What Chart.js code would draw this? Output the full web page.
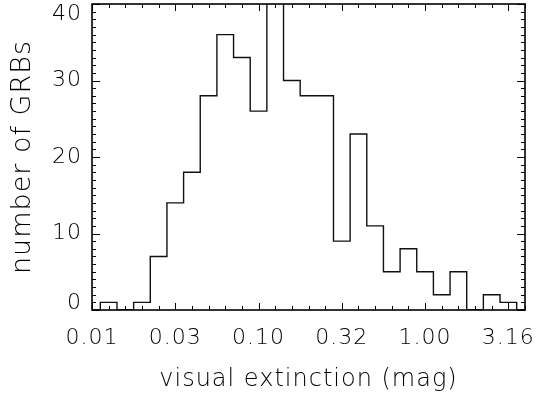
<!DOCTYPE html>
<html>
<head>
<meta charset="utf-8">
<script src="https://cdn.jsdelivr.net/npm/chart.js@4/dist/chart.umd.min.js"></script>
<style>
  html, body { margin: 0; padding: 0; background: #fff; }
  canvas { display: block; }
</style>
</head>
<body>
<canvas id="hist" width="537" height="394"></canvas>
<script>
// bin centres in log10(A_V), 0.1 dex wide
var logAv = [-2.0, -1.9, -1.8, -1.7, -1.6, -1.5, -1.4, -1.3, -1.2, -1.1, -1.0, -0.9, -0.8,
             -0.7, -0.6, -0.5, -0.4, -0.3, -0.2, -0.1, 0.0, 0.1, 0.2, 0.3, 0.4, 0.5, 0.6];
// number of GRBs per bin (the -0.9 bin runs off the top of the plot)
var counts = [0, 1, 0, 1, 7, 14, 18, 28, 36, 33, 26, 42, 30,
              28, 28, 9, 23, 11, 5, 8, 5, 2, 5, 0, 2, 1, 0];

var xTickValues = [-2, -1.5, -1, -0.5, 0, 0.5];
var xTickLabels = ['0.01', '0.03', '0.10', '0.32', '1.00', '3.16'];
var yTickValues = [0, 10, 20, 30, 40];
var yTickLabels = ['0', '10', '20', '30', '40'];

var FONT = '"DejaVu Sans", "Liberation Sans", sans-serif';
var INK = '#000';

var points = [];
for (var i = 0; i < logAv.length; i++) {
    points.push({x: logAv[i], y: counts[i]});
}

// IDL style box: inward ticks on all four sides, y labels kept inside the box height
var boxTicks = {
    id: 'boxTicks',
    beforeDraw: function (chart) {
        chart.ctx.letterSpacing = '1px';
    },
    afterDraw: function (chart) {
        var ctx = chart.ctx, a = chart.chartArea;
        var xs = chart.scales.x, ys = chart.scales.y;
        ctx.save();
        ctx.strokeStyle = INK;
        ctx.lineWidth = 1;
        ctx.beginPath();
        // x: minor every 0.1 dex, major every 0.5
        for (var i = -20; i <= 6; i++) {
            var px = Math.round(xs.getPixelForValue(i / 10)) + 0.5;
            var len = (i % 5 === 0) ? 7 : 4;
            ctx.moveTo(px, a.bottom); ctx.lineTo(px, a.bottom - len);
            ctx.moveTo(px, a.top); ctx.lineTo(px, a.top + len);
        }
        // y: minor every 1, major every 10
        for (var v = 0; v <= 40; v++) {
            var py = Math.round(ys.getPixelForValue(v)) + 0.5;
            var l = (v % 10 === 0) ? 8 : 4;
            ctx.moveTo(a.left, py); ctx.lineTo(a.left + l, py);
            ctx.moveTo(a.right, py); ctx.lineTo(a.right - l, py);
        }
        ctx.stroke();
        ctx.lineWidth = 1.6;
        ctx.strokeRect(a.left, a.top, a.right - a.left, a.bottom - a.top);

        ctx.fillStyle = INK;
        ctx.font = '200 22px ' + FONT;
        ctx.textAlign = 'right';
        ctx.textBaseline = 'middle';
        for (var k = 0; k < yTickValues.length; k++) {
            var ty = ys.getPixelForValue(yTickValues[k]);
            ty = Math.max(a.top + 10, Math.min(a.bottom - 7, ty));
            ctx.fillText(yTickLabels[k], a.left - 10, ty);
        }
        ctx.restore();
    }
};

new Chart(document.getElementById('hist'), {
    type: 'line',
    data: {
        datasets: [{
            data: points,
            stepped: 'middle',
            borderColor: '#111',
            borderWidth: 1.4,
            pointRadius: 0,
            fill: false
        }]
    },
    options: {
        responsive: false,
        animation: false,
        events: [],
        layout: {padding: {left: 0, right: 12, top: 4, bottom: 0}},
        plugins: {legend: {display: false}, tooltip: {enabled: false}},
        scales: {
            x: {
                type: 'linear',
                min: -2,
                max: 0.6,
                grid: {display: false, drawTicks: false},
                border: {display: false},
                afterBuildTicks: function (scale) {
                    scale.ticks = xTickValues.map(function (v) { return {value: v}; });
                },
                afterFit: function (scale) {
                    scale.height = 84;
                    scale.paddingLeft = 0;
                    scale.paddingRight = 0;
                },
                ticks: {
                    padding: 15,
                    maxRotation: 0,
                    autoSkip: false,
                    color: INK,
                    font: {family: FONT, size: 22, weight: '200'},
                    callback: function (value) {
                        var idx = xTickValues.indexOf(value);
                        return idx >= 0 ? xTickLabels[idx] : '';
                    }
                },
                title: {
                    display: true,
                    text: 'visual extinction (mag)',
                    color: INK,
                    font: {family: FONT, size: 24, weight: '200'},
                    padding: {top: 0, bottom: 0}
                }
            },
            y: {
                min: 0,
                max: 40,
                grid: {display: false, drawTicks: false},
                border: {display: false},
                ticks: {display: false},
                afterFit: function (scale) {
                    scale.width = 92;
                    scale.paddingTop = 0;
                    scale.paddingBottom = 0;
                },
                title: {
                    display: true,
                    text: 'number of GRBs',
                    color: INK,
                    font: {family: FONT, size: 27, weight: '200'},
                    padding: {top: 7, bottom: 0}
                }
            }
        }
    },
    plugins: [boxTicks]
});
</script>
</body>
</html>
